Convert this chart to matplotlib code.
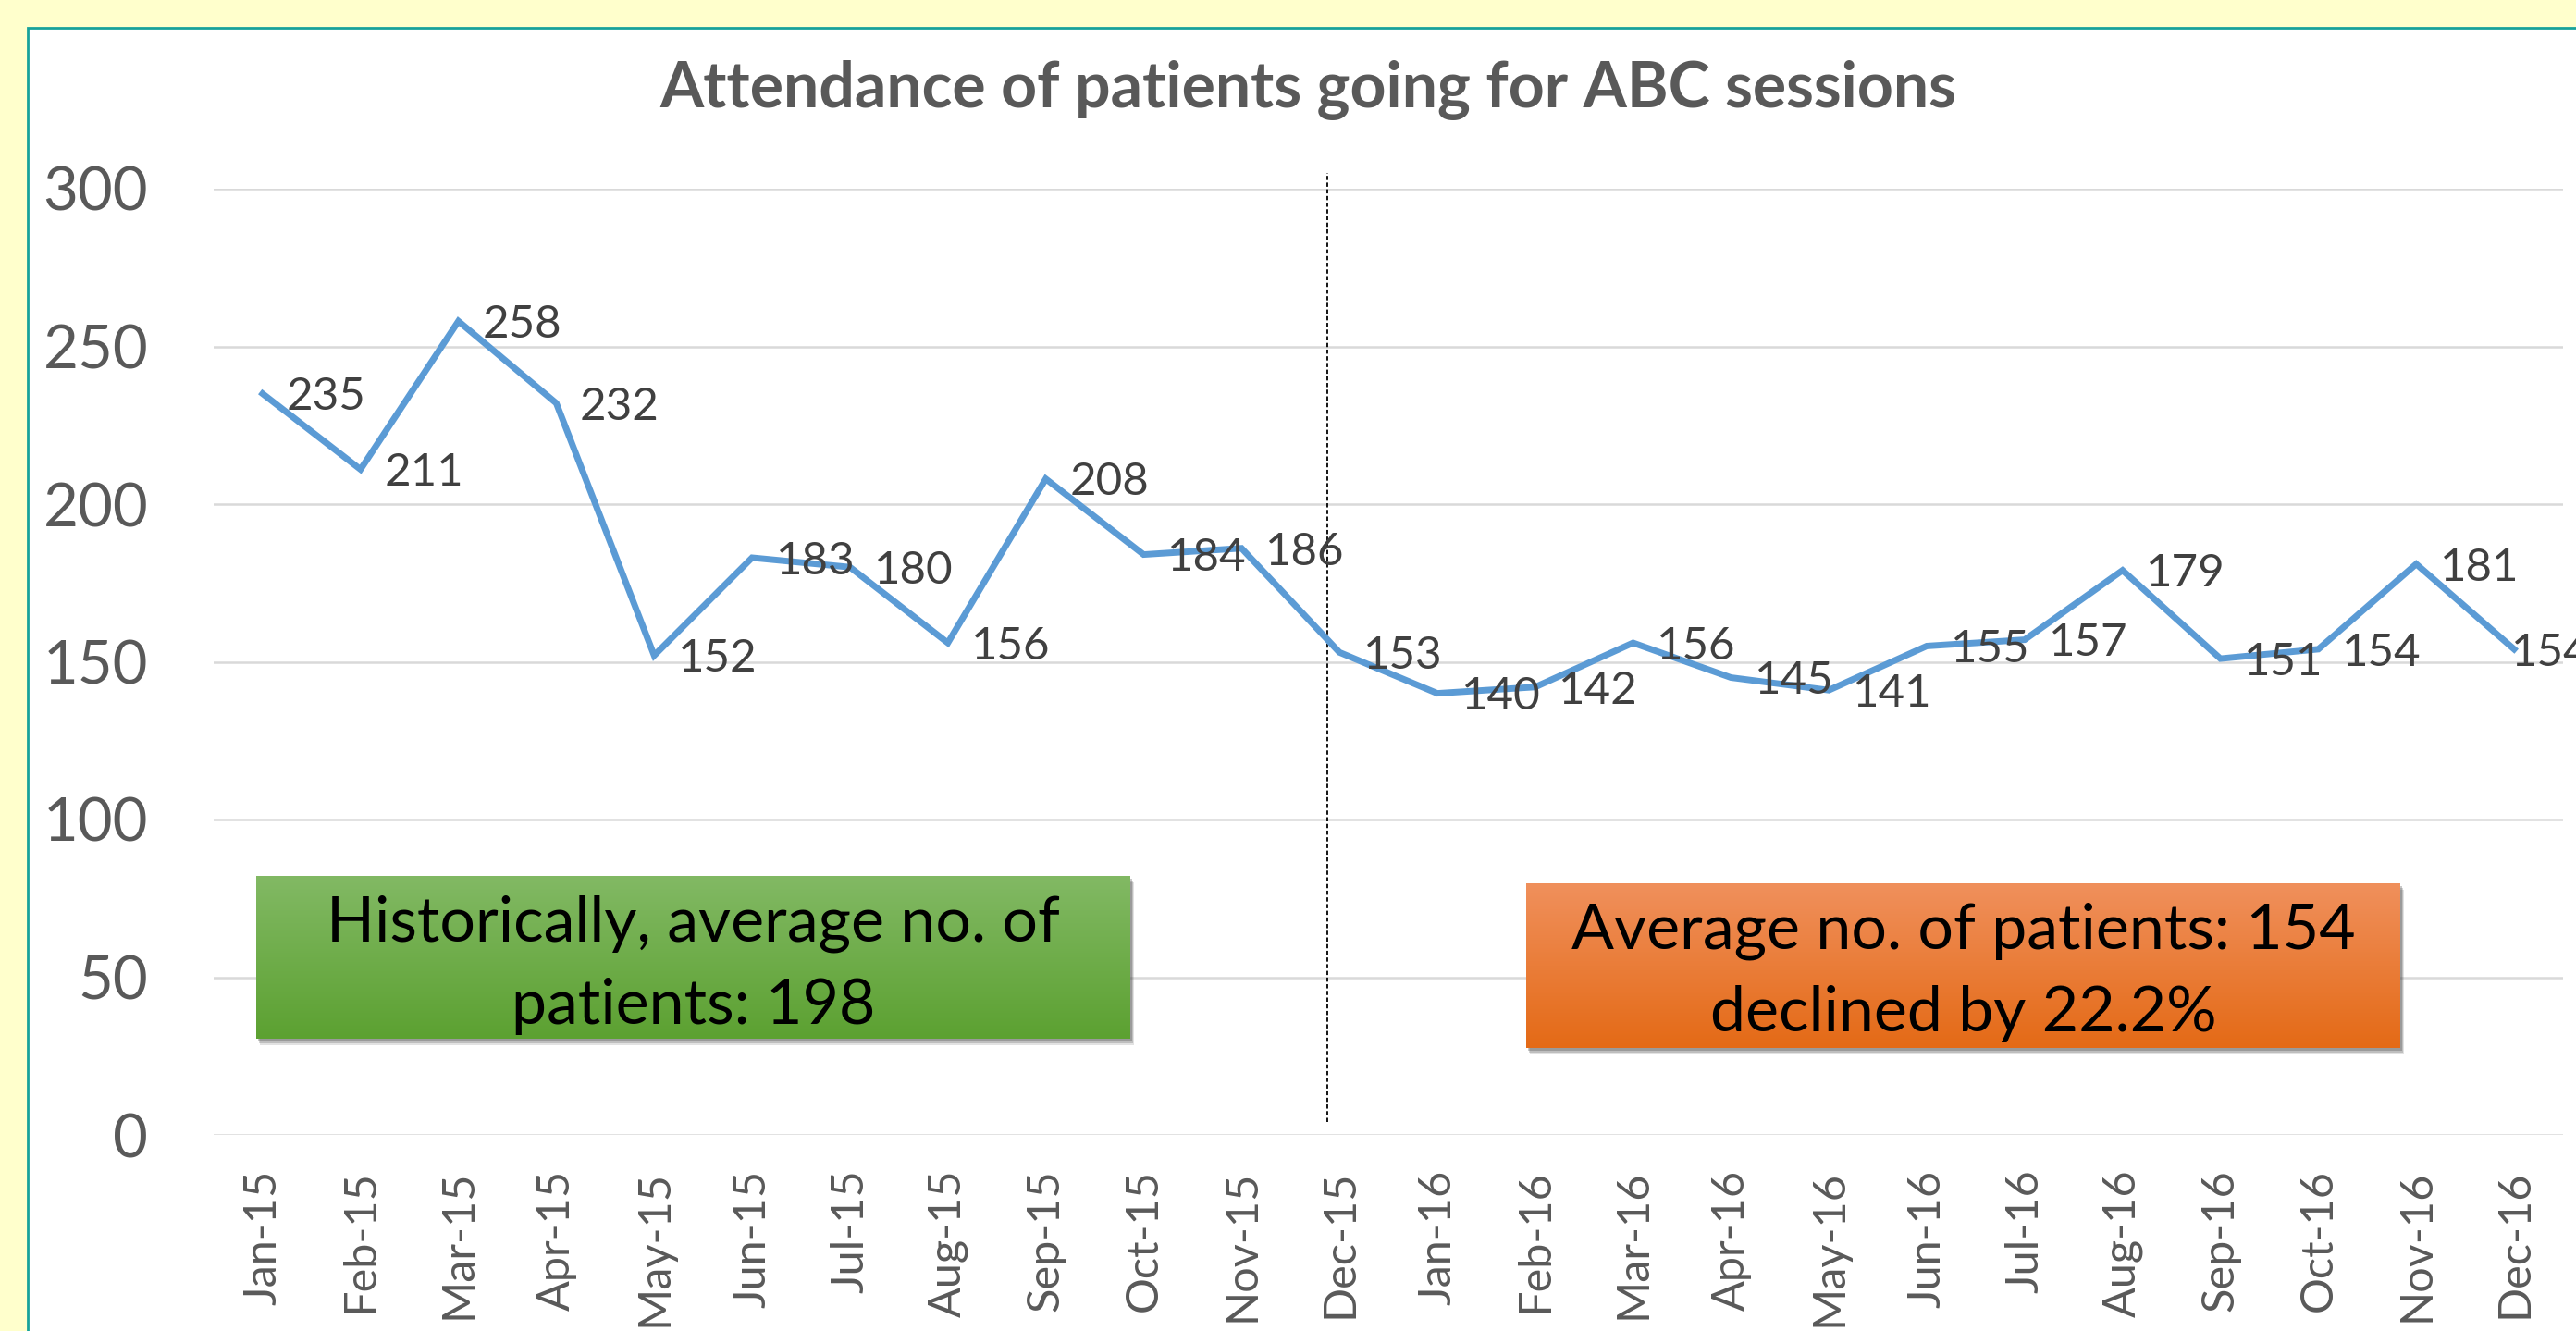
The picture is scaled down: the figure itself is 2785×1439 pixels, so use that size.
import matplotlib
matplotlib.use("Agg")
import matplotlib.pyplot as plt
import numpy as np
from matplotlib.patches import Rectangle
from matplotlib.colors import to_rgb

# ---------------- data ----------------
months = ["Jan-15", "Feb-15", "Mar-15", "Apr-15", "May-15", "Jun-15", "Jul-15",
          "Aug-15", "Sep-15", "Oct-15", "Nov-15", "Dec-15", "Jan-16", "Feb-16",
          "Mar-16", "Apr-16", "May-16", "Jun-16", "Jul-16", "Aug-16", "Sep-16",
          "Oct-16", "Nov-16", "Dec-16"]
attendance = [235, 211, 258, 232, 152, 183, 180, 156, 208, 184, 186, 153,
              140, 142, 156, 145, 141, 155, 157, 179, 151, 154, 181, 154]
y_ticks = [0, 50, 100, 150, 200, 250, 300]
title = "Attendance of patients going for ABC sessions"
hist_box_lines = ["Historically, average no. of", "patients: 198"]
recent_box_lines = ["Average no. of patients: 154", "declined by 22.2%"]
divider_pos = 10.88

# ---------------- figure ----------------
W, H = 2785, 1439
FONT = ["Lato", "DejaVu Sans"]
plt.rcParams["font.family"] = FONT

fig = plt.figure(figsize=(W / 100, H / 100), dpi=100)
fig.patch.set_facecolor("#FFFFCC")

# white chart panel with teal border
panel = Rectangle((30 / W, -0.1), 1.2, 1 - 30 / H + 0.1, transform=fig.transFigure,
                  facecolor="white", edgecolor="#17A29B", linewidth=2.0, zorder=-10)
fig.patches.append(panel)

ax_l, ax_r = 231 / W, 2771 / W
ax_b, ax_t = (H - 1227) / H, (H - 204) / H
ax = fig.add_axes([ax_l, ax_b, ax_r - ax_l, ax_t - ax_b])
ax.set_facecolor("none")

x = np.arange(len(months))
ax.plot(x, attendance, color="#5B9BD5", lw=5.0, solid_joinstyle="miter", zorder=3)

ax.set_xlim(-0.5, len(months) - 0.5)
ax.set_ylim(0, 300)
ax.set_yticks(y_ticks)
ax.set_yticklabels([str(v) for v in y_ticks])
ax.set_xticks(x)
ax.set_xticklabels(months, rotation=90, va="top", ha="center")
ax.grid(axis="y", color="#D9D9D9", lw=1.8)
ax.set_axisbelow(True)
for s in ax.spines.values():
    s.set_visible(False)
ax.tick_params(axis="y", length=0, pad=51, labelsize=47, labelcolor="#595959")
ax.tick_params(axis="x", length=0, pad=27, labelsize=35, labelcolor="#595959")

# data labels to the right of points
for i, v in enumerate(attendance):
    dx = 18.5 if i < len(attendance) - 1 else -2
    ax.annotate(str(v), (i, v), xytext=(dx, -12.8), textcoords="offset points",
                ha="left", va="baseline", fontsize=35.5, color="#404040", zorder=4,
                annotation_clip=False)

# dashed divider
ax.plot([divider_pos, divider_pos], [4, 305], color="black", lw=1.3,
        ls=(0, (2.5, 1.5)), clip_on=False, zorder=2)

# title
fig.text(0.508, (H - 98) / H, title, ha="center", va="center", fontsize=49,
         fontweight="bold", color="#595959")


def draw_box(x0, y0, x1, y1, top_col, bot_col, lines, fs):
    # soft shadow
    for off, a in [(7, 0.15), (5, 0.22), (3, 0.28)]:
        sh = Rectangle(((x0 + off * 0.6) / W, (H - y1 - off) / H), (x1 - x0) / W,
                       (y1 - y0) / H, transform=fig.transFigure, facecolor="#404040",
                       edgecolor="none", alpha=a, zorder=5)
        fig.patches.append(sh)
    bax = fig.add_axes([x0 / W, (H - y1) / H, (x1 - x0) / W, (y1 - y0) / H])
    bax.set_zorder(6)
    t = np.linspace(0, 1, 256)[:, None]
    c0, c1 = np.array(to_rgb(top_col)), np.array(to_rgb(bot_col))
    grad = (c0[None, None, :] * (1 - t[..., None]) + c1[None, None, :] * t[..., None])
    grad = np.repeat(grad, 2, axis=1)
    bax.imshow(grad, aspect="auto", extent=(0, 1, 0, 1), origin="upper")
    bax.set_xlim(0, 1)
    bax.set_ylim(0, 1)
    bax.axis("off")
    h = y1 - y0
    bax.text(0.5, (y1 - (y0 + 70)) / h, lines[0], ha="center", va="baseline",
             fontsize=fs, color="black")
    bax.text(0.5, (y1 - (y0 + 160)) / h, lines[1], ha="center", va="baseline",
             fontsize=fs, color="black")


draw_box(277, 947, 1222, 1123, "#82B964", "#5CA131", hist_box_lines, 49)
draw_box(1650, 955, 2595, 1133, "#F0905C", "#E46A16", recent_box_lines, 49)

fig.savefig("out.png", dpi=100, facecolor=fig.get_facecolor())
